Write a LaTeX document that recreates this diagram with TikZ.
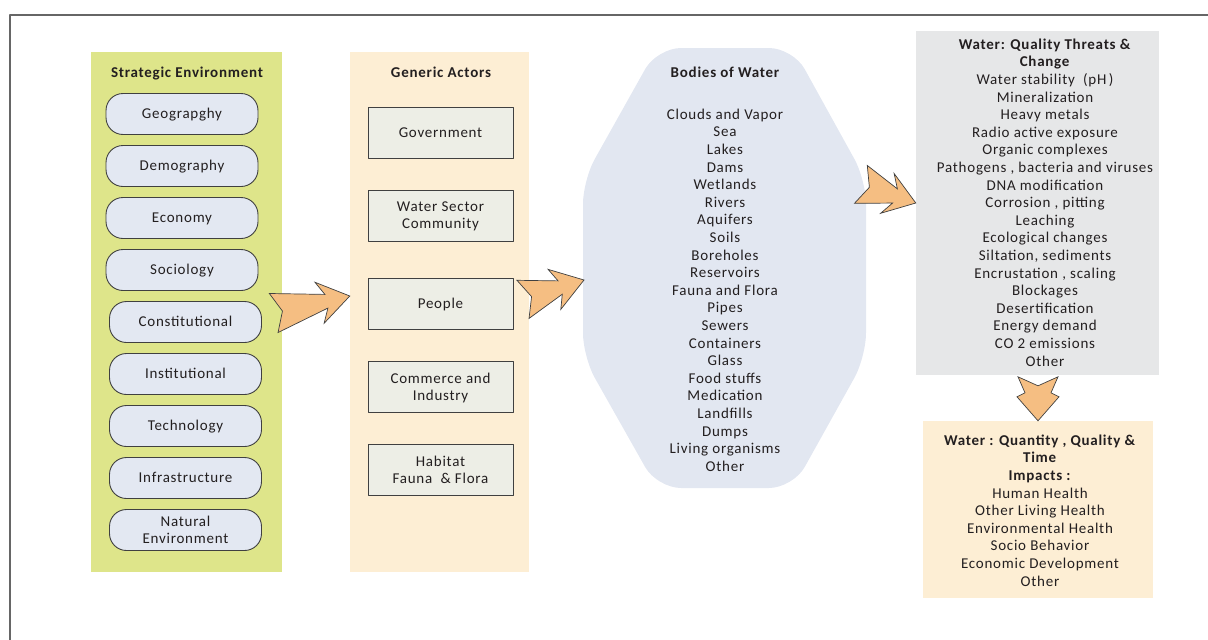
\documentclass[tikz,border=0pt]{standalone}
\usepackage{fontspec}
\setmainfont{Carlito}[LetterSpace=5]
\definecolor{segreen}{RGB}{222,229,138}
\definecolor{peach}{RGB}{253,238,212}
\definecolor{pillblue}{RGB}{227,232,242}
\definecolor{actorgray}{RGB}{237,238,230}
\definecolor{waterblue}{RGB}{226,231,241}
\definecolor{threatgray}{RGB}{230,231,232}
\definecolor{arroworange}{RGB}{245,190,130}
\definecolor{edge}{RGB}{64,64,64}
\definecolor{ink}{RGB}{35,31,32}
\tikzset{
  panel/.style={rectangle, inner sep=0pt},
  pill/.style={rectangle, rounded corners=17pt, draw=edge, fill=pillblue, line width=0.9pt,
    minimum width=152pt, minimum height=41pt, align=center, inner sep=0pt, text depth=0.5pt},
  actor/.style={rectangle, draw=edge, fill=actorgray, line width=0.9pt,
    minimum width=145pt, minimum height=51pt, align=center, inner sep=0pt, text depth=0.5pt},
  head/.style={font=\fontsize{15}{17.6}\selectfont\bfseries, anchor=mid, inner sep=0pt},
  item/.style={anchor=mid, inner sep=0pt},
  % notched block arrow, tip at the origin, pointing along +x
  pics/zigzag/.style n args={4}{code={
    \filldraw[fill=arroworange, draw=edge, line width=0.7pt, line join=miter]
      (0,0) -- (-#2,21) -- (-#3,#4) -- (-#1,20) -- (-#1+9,0)
      -- (-#1,-20) -- (-#3,-#4) -- (-#2,-21) -- cycle;
  }}
}
\begin{document}
\begin{tikzpicture}[x=1pt, y=-1pt, font=\fontsize{15}{17.6}\selectfont, text=ink, line join=round]
  \useasboundingbox (0,0) rectangle (1208,640);
  \draw[edge!80, line width=1.2pt] (10,640) -- (10,15) -- (1208,15);

  % columns
  \node[panel, fill=segreen, minimum width=191pt, minimum height=520pt] (se) at (186.5,312) {};
  \node[panel, fill=peach, minimum width=179pt, minimum height=520pt] (ga) at (439.5,312) {};
  \fill[waterblue, rounded corners=24pt] (725,48) -- (793,48) -- (866,180) -- (866,357) -- (793,488)
    -- (657,488) -- (583,357) -- (583,180) -- (657,48) -- cycle;
  \node[panel, fill=threatgray, minimum width=243pt, minimum height=344pt] (qt) at (1037.5,203) {};
  \node[panel, fill=peach, minimum width=230pt, minimum height=177pt] (im) at (1038,509.5) {};

  \node[head] (set) at (187,75) {Strategic Environment};
  \node[head] (gat) at (441,75) {Generic Actors};
  \node[head] (bwt) at (725,75) {Bodies of Water};

  \foreach \t [count=\i] in {Geograpghy, Demography, Economy, Sociology, Constitutional,
      Institutional, Technology, Infrastructure, {Natural\\Environment}}{
    \pgfmathsetmacro\px{\i<5 ? 182 : 185.5}
    \node[pill] (se\i) at (\px,62+52*\i) {\t};
  }
  \foreach \t/\y [count=\i] in {Government/132.5, {Water Sector\\Community}/215.5, People/304,
      {Commerce and\\Industry}/387, {Habitat\\Fauna\ \ \& Flora}/470}
    \node[actor] (ga\i) at (440.5,\y) {\t};
  \foreach \t [count=\i] in {Clouds and Vapor, Sea, Lakes, Dams, Wetlands, Rivers, Aquifers, Soils,
      Boreholes, Reservoirs, Fauna and Flora, Pipes, Sewers, Containers, Glass, Food stuffs,
      Medication, Landfills, Dumps, Living organisms, Other}
    \node[item] (bw\i) at (725,99.4+17.6*\i) {\t};
  \foreach \t [count=\i] in {{\textbf{Water: Quality Threats \&}}, \textbf{Change},
      {Water stability~ (pH\,)}, Mineralization, Heavy metals, Radio active exposure,
      Organic complexes, {Pathogens , bacteria and viruses}, DNA modification,
      {Corrosion , pitting}, Leaching, Ecological changes, {Siltation, sediments},
      {Encrustation , scaling}, Blockages, Desertification, Energy demand, CO 2 emissions, Other}
    \node[item] (qt\i) at (1045,29.4+17.6*\i) {\t};
  \foreach \t [count=\i] in {{\textbf{Water : Quantity , Quality \&}}, \textbf{Time},
      {\textbf{Impacts :}}, Human Health, Other Living Health, Environmental Health,
      Socio Behavior, Economic Development, Other}
    \node[item] (im\i) at (1040,425.4+17.6*\i) {\t};

  % arrows between the columns
  \coordinate (a1) at (ga.west |- 0,296);
  \coordinate (a2) at (584,280);
  \coordinate (a3) at (qt.west |- 0,203);
  \pic[rotate=12.6] at (a1) {zigzag={78}{31}{24}{7}};
  \pic[rotate=17.6] at (a2) {zigzag={64}{31}{25}{7}};
  \pic[rotate=-18.7] at (a3) {zigzag={58}{30}{22}{7.5}};
  \pic[rotate=-90] at (im.north) {zigzag={44}{24}{28}{13}};
\end{tikzpicture}
\end{document}
